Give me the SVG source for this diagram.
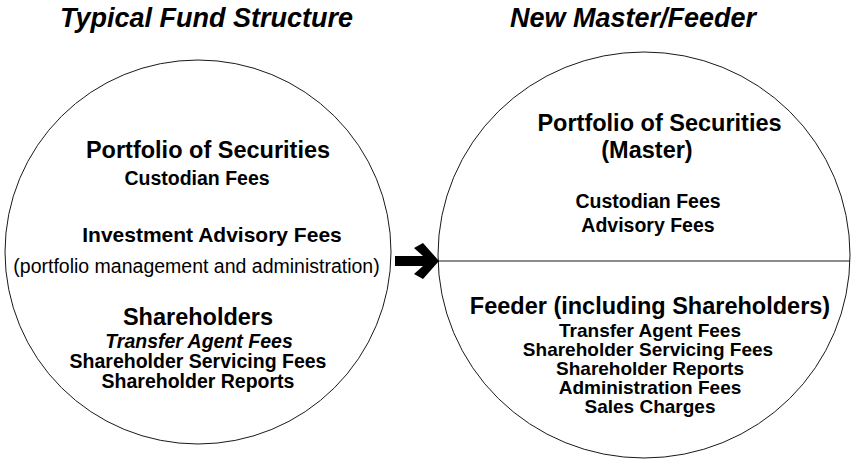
<svg xmlns="http://www.w3.org/2000/svg" width="851" height="466" viewBox="0 0 851 466">
  <style>
    text { font-family: "Liberation Sans", Arial, sans-serif; fill: #000; text-anchor: middle; }
    .title { font-size: 27px; font-weight: bold; font-style: italic; }
    .head { font-size: 23.5px; font-weight: bold; }
    .mid { font-size: 21px; font-weight: bold; }
    .item { font-size: 19.5px; font-weight: bold; }
    .tight { font-size: 19px; font-weight: bold; }
    .note { font-size: 19.5px; }
    .ital { font-style: italic; }
    .outline { fill: none; stroke: #1a1a1a; stroke-width: 1; }
  </style>
  <rect width="851" height="466" fill="#fff"/>

  <!-- left: typical fund structure -->
  <g id="typical-fund">
    <text class="title" x="206.5" y="27">Typical Fund Structure</text>
    <ellipse class="outline" cx="198" cy="252" rx="193" ry="192"/>
    <text class="head" x="208" y="158">Portfolio of Securities</text>
    <text class="item" x="197" y="185">Custodian Fees</text>
    <text class="mid" x="212" y="242">Investment Advisory Fees</text>
    <text class="note" x="196.5" y="273">(portfolio management and administration)</text>
    <text class="head" x="198" y="325">Shareholders</text>
    <text class="item ital" x="199" y="348">Transfer Agent Fees</text>
    <text class="item" x="198" y="368">Shareholder Servicing Fees</text>
    <text class="item" x="198" y="388">Shareholder Reports</text>
  </g>

  <!-- right: master/feeder split -->
  <g id="master-feeder">
    <text class="title" x="633" y="27">New Master/Feeder</text>
    <ellipse class="outline" cx="644" cy="255" rx="206" ry="203"/>
    <line class="outline" x1="438" y1="261" x2="850" y2="261"/>
  </g>

  <g id="master">
    <text class="head" x="659.5" y="131">Portfolio of Securities</text>
    <text class="head" x="647" y="158">(Master)</text>
    <text class="item" x="648" y="208">Custodian Fees</text>
    <text class="item" x="648" y="232">Advisory Fees</text>
  </g>

  <g id="feeder">
    <text class="head" x="650" y="314">Feeder (including Shareholders)</text>
    <text class="tight" x="650" y="337">Transfer Agent Fees</text>
    <text class="tight" x="648" y="356">Shareholder Servicing Fees</text>
    <text class="tight" x="650" y="375">Shareholder Reports</text>
    <text class="tight" x="650" y="394">Administration Fees</text>
    <text class="tight" x="650" y="413">Sales Charges</text>
  </g>

  <!-- transition arrow -->
  <g id="connectors">
    <path d="M395,256 H423 L414,248 L423,243 L439,261 L423,279 L414,274 L423,266 H395 Z" fill="#000"/>
  </g>
</svg>
